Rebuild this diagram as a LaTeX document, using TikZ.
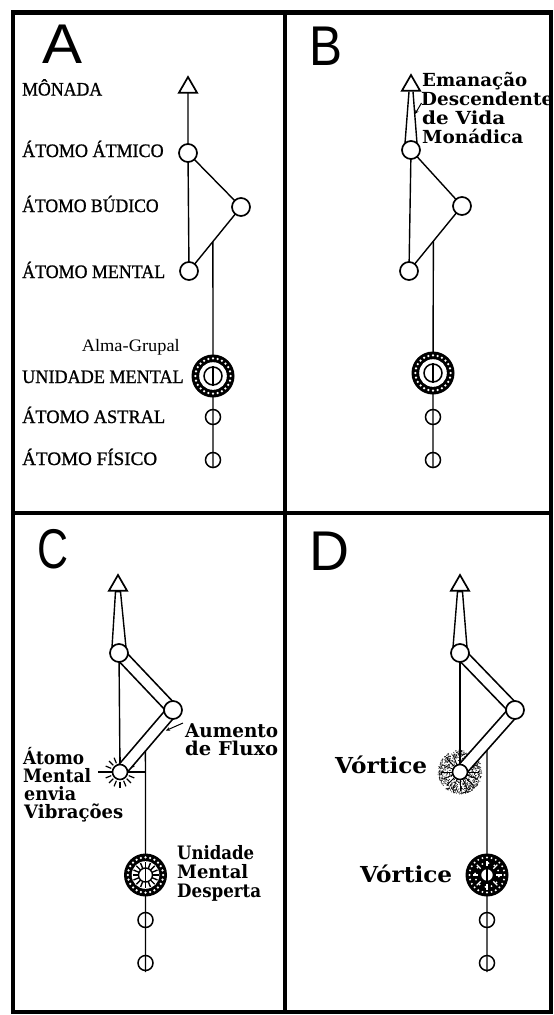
\documentclass[tikz,border=0pt]{standalone}
\usepackage{fontspec}
\usepackage{graphicx}
\setmainfont{Liberation Serif}
\newfontfamily\capfont{Liberation Serif}[BoldFont={Liberation Serif}, BoldFeatures={FakeBold=1.0}]
\newfontfamily\slabfont{DejaVu Serif}
\newfontfamily\bigsans{Liberation Sans}
\usetikzlibrary{shapes.geometric,calc,arrows.meta}
\pgfdeclarelayer{bg}
\pgfsetlayers{bg,main}
\newcommand\fw[2]{\resizebox{#1pt}{\height}{#2}}
\tikzset{
  frameline/.style={line width=4.5pt},
  wire/.style={line width=1.4pt},
  atom/.style={circle, draw, line width=1.7pt, fill=white, minimum size=18pt, inner sep=0pt},
  satom/.style={circle, draw, line width=1.5pt, minimum size=15pt, inner sep=0pt},
  wdot/.style={circle, draw, line width=1.6pt, fill=white, minimum size=15pt, inner sep=0pt},
  mona/.style={regular polygon, regular polygon sides=3, draw, line width=1.7pt, fill=white, minimum size=21pt, inner sep=0pt},
  caplabel/.style={anchor=base west, inner sep=0pt, font=\capfont\bfseries\fontsize{19}{19}\selectfont},
  slab/.style={anchor=base west, inner sep=0pt, font=\slabfont\bfseries\fontsize{#1}{#1}\selectfont},
  letter/.style={anchor=base west, inner sep=0pt, font=\bigsans\fontsize{56}{56}\selectfont},
  tubeout/.style={line width=13pt},
  tubein/.style={line width=9.6pt, white},
  pointer/.style={line width=1pt, -{Stealth[length=4pt,width=3.5pt]}},
  umring/.pic={\fill[black] (0,0) circle (21.5); \fill[white] (0,0) circle (13.8);
     \foreach \a in {0,15,...,345} \fill[white] (\a:17.6) circle (1.25);},
}
\begin{document}
\begin{tikzpicture}[x=1pt,y=-1pt]
\useasboundingbox (0,0) rectangle (554,1015);
\begin{pgfonlayer}{bg}
\fill[white] (0,0) rectangle (554,1015);
\end{pgfonlayer}
% frame
\draw[frameline] (13,12.5) rectangle (551,1012);
\draw[frameline] (285,12.5) -- (285,1012);
\draw[frameline] (13,513) -- (551,513);

% ================= PANEL A =================
\node[letter] (LA) at (42,63) {\fw{40}{A}};
\node[mona] (tA) at (188,87.5) {};
\node[atom] (aA) at (188,153) {};
\node[atom] (bA) at (241,207) {};
\node[atom] (mA) at (189,271) {};
\node[satom] (sA) at (213,417) {};
\node[satom] (fA) at (213,460) {};
\coordinate (uA) at (213,376);
\coordinate (eA) at (213,468);
\coordinate (jA) at ($(bA)!0.54!(mA)$);
\begin{pgfonlayer}{bg}
\draw[wire] (tA.center) -- (aA.center) -- (mA.center);
\draw[wire] (aA.center) -- (bA.center) -- (mA.center);
\draw[wire] (jA) -- (uA) -- (sA.center) -- (fA.center) -- (eA);
\end{pgfonlayer}
\pic at (uA) {umring};
\node[satom, minimum size=18pt] (iA) at (uA) {};
\draw[wire] (iA.north) -- (iA.south);
\node[caplabel] (lA1) at (22,95.5) {\fw{80}{MÔNADA}};
\node[caplabel] (lA2) at (22,157) {\fw{141.5}{ÁTOMO ÁTMICO}};
\node[caplabel] (lA3) at (22,212) {\fw{136.5}{ÁTOMO BÚDICO}};
\node[caplabel] (lA4) at (22,278) {\fw{143}{ÁTOMO MENTAL}};
\node[anchor=base east, inner sep=0pt, font=\capfont\fontsize{17.5}{17.5}\selectfont] (lA5) at (180,351.5) {\fw{98}{Alma-Grupal}};
\node[caplabel] (lA6) at (22,383) {\fw{161.5}{UNIDADE MENTAL}};
\node[caplabel] (lA7) at (22,423) {\fw{143}{ÁTOMO ASTRAL}};
\node[caplabel] (lA8) at (22,465) {\fw{135}{ÁTOMO FÍSICO}};

% ================= PANEL B =================
\node[letter] (LB) at (309,65) {\fw{33}{B}};
\node[mona] (tB) at (411,85.5) {};
\node[atom] (aB) at (411,150) {};
\node[atom] (bB) at (462,206) {};
\node[atom] (mB) at (409,271) {};
\node[satom] (sB) at (433,417) {};
\node[satom] (fB) at (433,460) {};
\coordinate (uB) at (433,373);
\coordinate (eB) at (433,468);
\coordinate (jB) at ($(bB)!0.54!(mB)$);
\begin{pgfonlayer}{bg}
\draw[wire] ($(tB.south)+(-2,0)$) -- ($(aB.center)+(-6,-6.7)$);
\draw[wire] ($(tB.south)+(2,0)$) -- ($(aB.center)+(6,-6.7)$);
\draw[wire] (aB.center) -- (mB.center);
\draw[wire] (aB.center) -- (bB.center) -- (mB.center);
\draw[wire] (jB) -- (uB) -- (sB.center) -- (fB.center) -- (eB);
\end{pgfonlayer}
\pic at (uB) {umring};
\node[satom, minimum size=18pt] (iB) at (uB) {};
\draw[wire] (iB.north) -- (iB.south);
\node[slab=18] (tB1) at (422,86) {\fw{105}{Emanação}};
\node[slab=18] (tB2) at (421,105.5) {\fw{132}{Descendente}};
\node[slab=18] (tB3) at (422,124.5) {\fw{83}{de Vida}};
\node[slab=18] (tB4) at (422,143.5) {\fw{101}{Monádica}};
\coordinate (pB1) at (421.5,103);
\coordinate (pB2) at (415,114);
\draw[pointer] (pB1) -- (pB2);

% ================= PANEL C =================
\node[letter] (LC) at (37,568) {\fw{31}{C}};
\node[mona] (tC) at (118,585.5) {};
\node[atom] (aC) at (119,653) {};
\node[atom] (bC) at (173,710) {};
\node[wdot] (mC) at (120,772) {};
\node[satom] (sC) at (145.5,920) {};
\node[satom] (fC) at (145.5,963) {};
\coordinate (uC) at (145.5,875);
\coordinate (eC) at (145.5,972);
\coordinate (jC) at ($(bC)!0.52!(mC)$);
\begin{pgfonlayer}{bg}
\filldraw[wire, fill=white] ($(tC.south)+(-2.5,0)$) -- ($(aC.center)+(-7,-5.6)$) -- ($(aC.center)+(7,-5.6)$) -- ($(tC.south)+(2.5,0)$) -- cycle;
\draw[wire] (aC.center) -- (mC.center);
\draw[wire] (jC) -- (uC) -- (sC.center) -- (fC.center) -- (eC);
\foreach \a in {22.5,45,...,337.5} \draw[line width=1.2pt] ($(mC.center)+(\a:9.5)$) -- ($(mC.center)+(\a:15.5)$);
\draw[line width=1.2pt] ($(mC.center)+(-22,0)$) -- ($(mC.center)+(25.5,0)$);
\draw[tubeout] (aC.center) -- (bC.center);
\draw[tubeout] (bC.center) -- (mC.center);
\draw[tubein] (aC.center) -- (bC.center);
\draw[tubein] (bC.center) -- (mC.center);
\end{pgfonlayer}
\pic at (uC) {umring};
\foreach \a in {0,22.5,...,337.5} \draw[line width=1.4pt] ($(uC)+(\a:7)$) -- ($(uC)+(\a:13)$);
\node[wdot, line width=1.4pt, minimum size=14pt] (iC) at (uC) {};
\draw[wire] (iC.north) -- (iC.south);
\node[slab=18.5] (tC1) at (23,764) {\fw{61}{Átomo}};
\node[slab=18.5] (tC2) at (23,782) {\fw{68}{Mental}};
\node[slab=18.5] (tC3) at (24,800) {\fw{52}{envia}};
\node[slab=18.5] (tC4) at (24,818) {\fw{99}{Vibrações}};
\node[slab=19] (tC5) at (185,737) {\fw{93}{Aumento}};
\node[slab=19] (tC6) at (185,755.5) {\fw{93}{de Fluxo}};
\coordinate (pC1) at (183,723);
\coordinate (pC2) at (166,730.5);
\draw[pointer] (pC1) -- (pC2);
\node[slab=18.5] (tC7) at (177,859) {\fw{77}{Unidade}};
\node[slab=18.5] (tC8) at (177,878) {\fw{71}{Mental}};
\node[slab=18.5] (tC9) at (177,897) {\fw{84}{Desperta}};

% ================= PANEL D =================
\node[letter] (LD) at (309,570) {\fw{40}{D}};
\node[mona] (tD) at (460,585.5) {};
\node[atom] (aD) at (460,653) {};
\node[atom] (bD) at (515,710) {};
\node[wdot] (mD) at (460,772) {};
\node[satom] (sD) at (487,920) {};
\node[satom] (fD) at (487,963) {};
\coordinate (uD) at (487,875);
\coordinate (eD) at (487,972);
\coordinate (jD) at ($(bD)!0.51!(mD)$);
\begin{pgfonlayer}{bg}
\filldraw[wire, fill=white] ($(tD.south)+(-2.5,0)$) -- ($(aD.center)+(-7,-5.6)$) -- ($(aD.center)+(7,-5.6)$) -- ($(tD.south)+(2.5,0)$) -- cycle;
\draw[wire] (aD.center) -- (mD.center);
\draw[wire] (jD) -- (uD) -- (sD.center) -- (fD.center) -- (eD);
\pgfmathsetseed{4242}
\foreach \i in {1,...,800} {
  \pgfmathsetmacro\ang{360*rnd}
  \pgfmathsetmacro\rr{7+15*sqrt(rnd)}
  \fill ($(mD.center)+(\ang:\rr)$) circle (0.5);
}
\foreach \a in {0,22.5,...,337.5} \draw[line width=0.8pt] ($(mD.center)+(\a:8)$) -- ($(mD.center)+(\a:19)$);
\draw[tubeout] (aD.center) -- (bD.center);
\draw[tubeout] (bD.center) -- (mD.center);
\draw[tubein] (aD.center) -- (bD.center);
\draw[tubein] (bD.center) -- (mD.center);
\end{pgfonlayer}
\fill[black] (uD) circle (21.5);
\foreach \a in {0,15,...,345} \fill[white] ($(uD)+(\a:17.5)$) circle (1.1);
\foreach \a in {7.5,37.5,...,337.5} \fill[white] ($(uD)+(\a:12)$) circle (1.0);
\foreach \a in {0,45,...,315} \draw[white, line width=1.2pt] ($(uD)+(\a:9)$) -- ($(uD)+(\a:14.5)$);
\node[wdot, line width=1.4pt, minimum size=13pt] (iD) at (uD) {};
\draw[wire] (iD.north) -- (iD.south);
\node[slab=22] (tD1) at (335,773) {\fw{92}{Vórtice}};
\node[slab=22] (tD2) at (360,882) {\fw{92}{Vórtice}};
\end{tikzpicture}
\end{document}
